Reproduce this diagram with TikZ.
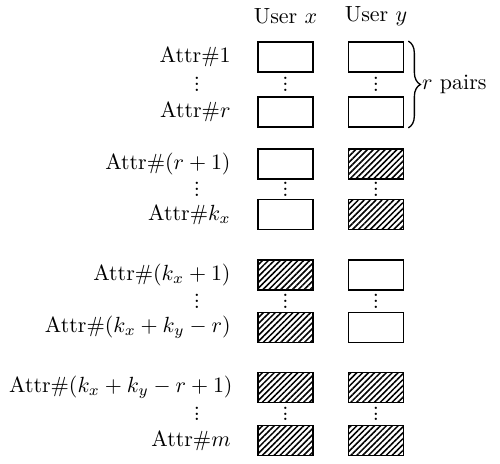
\documentclass[tikz,border=0pt]{standalone}
\usepackage{amsmath}
\usepackage{amssymb}
\usepackage{xcolor}
\usepackage{tikz}
\usetikzlibrary{positioning,calc,patterns.meta,decorations.pathreplacing}

\newcommand{\attrdots}{\vbox{\baselineskip2.6pt\lineskiplimit0pt\hbox{.}\hbox{.}\hbox{.}}}

\tikzset{
  attrbox/.style={draw,thick,minimum width=0.88cm,minimum height=0.48cm,inner sep=0pt},
  hatchbox/.style={attrbox,pattern={Lines[angle=45,distance=1.9pt,line width=0.7pt]}},
  attrlabel/.style={anchor=east,inner sep=0pt},
  vdot/.style={inner sep=0pt}
}

\begin{document}
\begin{tikzpicture}[x=0.016cm,y=-0.016cm]
                    \useasboundingbox (0,0) rectangle (500,464);
                    \node (ux) at (285.5,16) {User $x$};
                    \node (uy) at (376,16) {User $y$};
                    \node[attrlabel] (l1) at (231,57) {Attr$\#1$};
                    \node[attrlabel] (l2) at (231,112) {Attr$\#r$};
                    \node[attrlabel] (l3) at (231,164) {Attr$\#(r+1)$};
                    \node[attrlabel] (l4) at (231,214.5) {Attr$\#k_x$};
                    \node[attrlabel] (l5) at (231,275) {Attr$\#(k_x+1)$};
                    \node[attrlabel] (l6) at (231,327.5) {Attr$\#(k_x+k_y-r)$};
                    \node[attrlabel] (l7) at (233,387.5) {Attr$\#(k_x+k_y-r+1)$};
                    \node[attrlabel] (l8) at (231,440.5) {Attr$\#m$};
                    \node[attrbox] (x1) at (285.5,57) {};
                    \node[attrbox] (x2) at (285.5,112) {};
                    \node[attrbox] (x3) at (285.5,164) {};
                    \node[attrbox] (x4) at (285.5,214.5) {};
                    \node[hatchbox] (x5) at (285.5,275) {};
                    \node[hatchbox] (x6) at (285.5,327.5) {};
                    \node[hatchbox] (x7) at (285.5,387.5) {};
                    \node[hatchbox] (x8) at (285.5,440.5) {};
                    \node[attrbox] (y1) at (376,57) {};
                    \node[attrbox] (y2) at (376,112) {};
                    \node[hatchbox] (y3) at (376,164) {};
                    \node[hatchbox] (y4) at (376,214.5) {};
                    \node[attrbox] (y5) at (376,275) {};
                    \node[attrbox] (y6) at (376,327.5) {};
                    \node[hatchbox] (y7) at (376,387.5) {};
                    \node[hatchbox] (y8) at (376,440.5) {};
                    \coordinate (dcol) at (197,0);
                    \foreach \a/\b in {1/2,3/4,5/6,7/8} {
                      \node[vdot] (dx\a) at ($(x\a)!0.5!(x\b)$) {\attrdots};
                      \node[vdot] (dy\a) at ($(y\a)!0.5!(y\b)$) {\attrdots};
                      \node[vdot] (dl\a) at (dx\a -| dcol) {\attrdots};
                    }
                    \draw[semithick,decorate,decoration={brace,amplitude=5.5pt}]
                      ([xshift=1.8pt]y1.north east) -- ([xshift=1.8pt]y2.south east)
                      node[midway,right=6pt,inner sep=0pt] (rp) {$r$ pairs};
                \end{tikzpicture}
\end{document}
